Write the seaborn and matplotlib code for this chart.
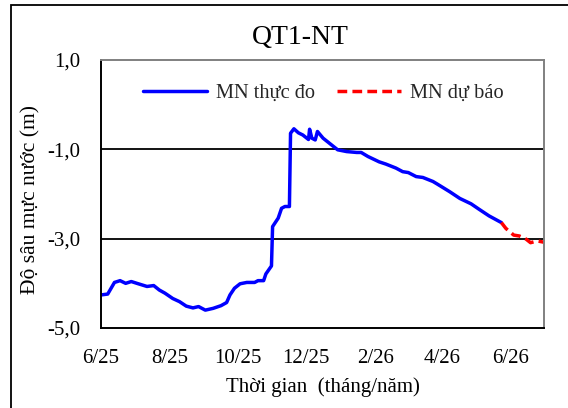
import numpy as np
import pandas as pd
import matplotlib
matplotlib.use("Agg")
import matplotlib.pyplot as plt
import seaborn as sns
from matplotlib.lines import Line2D
from matplotlib.patches import Rectangle

# ---------------- data ----------------
start_date = "2025-06-01"
obs_days = [0, 6, 9, 12, 17, 22, 27, 32, 41, 47, 52, 57, 64, 70, 76, 82, 87, 93,
            100, 107, 112, 115, 119, 124, 130, 137, 140, 145, 147, 152, 153, 158,
            161, 164, 168, 169, 172, 176, 180, 185, 186, 188, 191, 193, 198, 204,
            211, 219, 228, 232, 238, 248, 254, 263, 269, 274, 281, 287, 296, 300,
            311, 320, 330, 337, 346, 357]
obs_vals = [-4.26, -4.24, -4.11, -3.98, -3.94, -4.00, -3.96, -4.00, -4.07, -4.05,
            -4.15, -4.22, -4.34, -4.41, -4.51, -4.55, -4.52, -4.60, -4.56, -4.50,
            -4.43, -4.26, -4.11, -4.01, -3.98, -3.98, -3.94, -3.94, -3.79, -3.61,
            -2.73, -2.54, -2.32, -2.28, -2.28, -0.64, -0.54, -0.63, -0.68, -0.78,
            -0.55, -0.75, -0.79, -0.60, -0.75, -0.87, -1.01, -1.05, -1.07, -1.07,
            -1.16, -1.28, -1.33, -1.42, -1.50, -1.52, -1.61, -1.63, -1.72, -1.78,
            -1.95, -2.10, -2.22, -2.34, -2.49, -2.64]
fc_days = [357, 361, 368, 373, 379, 383, 389, 395]
fc_vals = [-2.64, -2.77, -2.92, -2.94, -3.01, -3.09, -3.05, -3.08]

series_names = ["MN thực đo", "MN dự báo"]
x_tick_dates = ["2025-06-01", "2025-08-01", "2025-10-01", "2025-12-01",
                "2026-02-01", "2026-04-01", "2026-06-01"]
x_tick_labels = ["6/25", "8/25", "10/25", "12/25", "2/26", "4/26", "6/26"]
y_ticks = [1.0, -1.0, -3.0, -5.0]
y_tick_labels = ["1,0", "-1,0", "-3,0", "-5,0"]
x_limits = ["2025-06-01", "2026-07-01"]
title_text = "QT1-NT"
x_label = "Thời gian  (tháng/năm)"
y_label = "Độ sâu mực nước (m)"

# ---------------- build frame ----------------
base = pd.Timestamp(start_date)
df = pd.concat([
    pd.DataFrame({"date": base + pd.to_timedelta(obs_days, unit="D"),
                  "val": obs_vals, "series": series_names[0]}),
    pd.DataFrame({"date": base + pd.to_timedelta(fc_days, unit="D"),
                  "val": fc_vals, "series": series_names[1]}),
], ignore_index=True)

sns.set_theme(style="white")
plt.rcParams["font.family"] = ["Liberation Serif", "DejaVu Serif"]

W, H = 568, 408
fig = plt.figure(figsize=(W / 100, H / 100), dpi=100)
ax = fig.add_axes([101 / W, 1 - 328 / H, (544 - 101) / W, (328 - 60) / H])

LW = 2.5
sns.lineplot(data=df, x="date", y="val", hue="series", style="series",
             palette={series_names[0]: "#0000FF", series_names[1]: "#FF0000"},
             dashes={series_names[0]: "", series_names[1]: (2.8, 1.5)},
             estimator=None, sort=False, linewidth=LW, ax=ax, legend=False)

ax.set_xlim(pd.Timestamp(x_limits[0]), pd.Timestamp(x_limits[1]))
ax.set_ylim(-5.0, 1.0)
ax.set_xticks([pd.Timestamp(d) for d in x_tick_dates])
ax.set_xticklabels(x_tick_labels)
ax.set_yticks(y_ticks)
ax.set_yticklabels(y_tick_labels)

for yv in [-1.0, -3.0]:
    ax.axhline(yv, color="black", lw=1.3, zorder=1)

for s in ["left", "bottom"]:
    ax.spines[s].set_color("black")
    ax.spines[s].set_linewidth(1.4)
for s in ["top", "right"]:
    ax.spines[s].set_color("#808080")
    ax.spines[s].set_linewidth(1.4)

ax.tick_params(axis="both", which="major", direction="out", length=4.8,
               width=1.4, color="black", labelsize=15, labelcolor="black")
ax.tick_params(axis="y", pad=10)
ax.tick_params(axis="x", pad=10)

ax.set_xlabel(x_label, fontsize=15, color="black")
ax.set_ylabel(y_label, fontsize=15.5, color="black")
ax.xaxis.set_label_coords(0.5, -0.183)
ax.yaxis.set_label_coords(-0.137, 0.48)

fig.text(300 / W, 1 - 37 / H, title_text, fontsize=20, ha="center", va="center",
         color="black")

handles = [Line2D([], [], color="#0000FF", lw=LW),
           Line2D([], [], color="#FF0000", lw=LW, dashes=(2.8, 1.5))]
ax.legend(handles, series_names, loc="center", bbox_to_anchor=(0.502, 0.875),
          ncol=2, frameon=False, fontsize=14.7, handlelength=3.15,
          handletextpad=0.45, columnspacing=1.05)

# outer frame of the figure
fig.patches.append(Rectangle((11 / W, -0.1), 1.2, 1 - 5 / H + 0.1,
                             transform=fig.transFigure, fill=False,
                             edgecolor="black", lw=1.3))

fig.savefig("out.png", dpi=100)
